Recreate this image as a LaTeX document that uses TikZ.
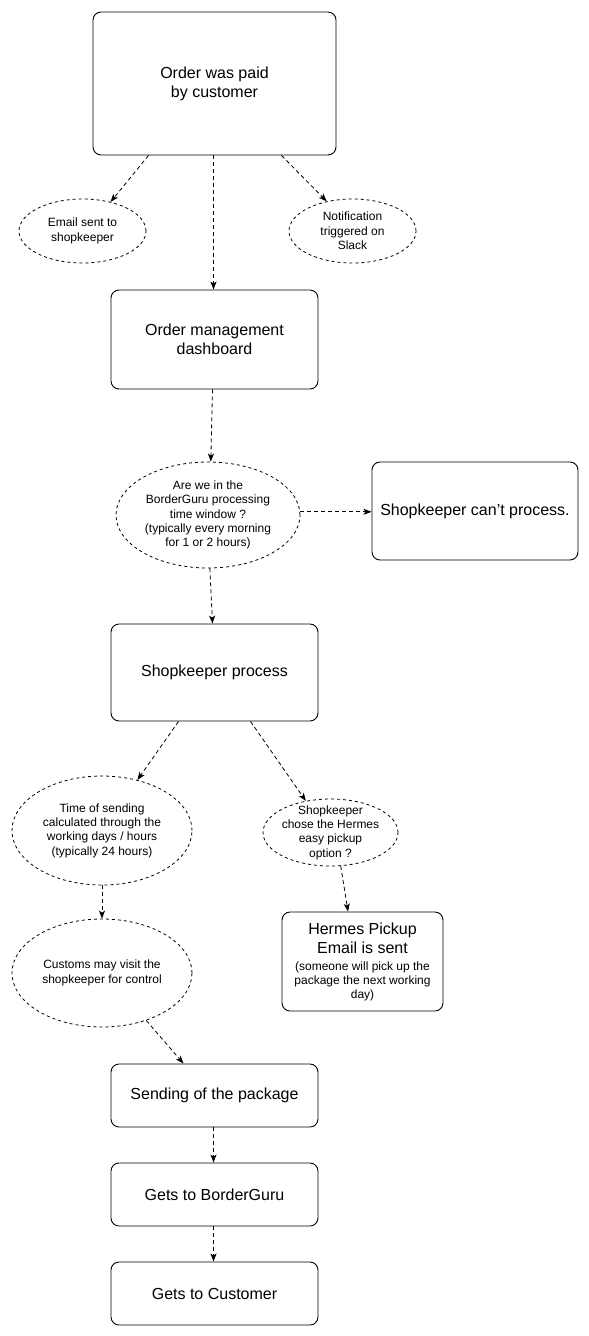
\documentclass[tikz,border=0pt]{standalone}
\usepackage{fontspec}
\setmainfont{Liberation Sans}
\usetikzlibrary{arrows.meta,shapes.geometric}
\begin{document}
\begin{tikzpicture}[x=1pt,y=-1pt,
  box/.style={draw,rounded corners=8pt,line width=0.9pt,inner sep=0pt,align=center,font=\fontsize{16}{19}\selectfont},
  oval/.style={draw,ellipse,dashed,dash pattern=on 3pt off 3pt,line width=0.8pt,inner sep=-4pt,align=center,font=\fontsize{12}{14.3}\selectfont},
  conn/.style={dashed,dash pattern=on 4pt off 3pt,line width=0.8pt,-{Stealth[length=8pt,width=6pt,inset=2pt]}}]
\useasboundingbox (0,0) rectangle (589,1336);
\node[box,minimum width=243pt,minimum height=143pt] (paid) at (214.5,83.5) {Order was paid\\by customer};
\node[oval,minimum width=127pt,minimum height=64pt] (email) at (82.5,231) {Email sent to\\shopkeeper};
\node[oval,minimum width=127pt,minimum height=64pt] (slack) at (352.5,231) {Notification\\triggered on\\Slack};
\node[box,minimum width=207pt,minimum height=99pt] (dash) at (214.5,339.5) {Order management\\dashboard};
\node[oval,minimum width=184pt,minimum height=106pt] (window) at (208,515) {Are we in the\\BorderGuru processing\\time window ?\\(typically every morning\\for 1 or 2 hours)};
\node[box,minimum width=206pt,minimum height=98pt] (cant) at (475,511) {Shopkeeper can’t process.};
\node[box,minimum width=207pt,minimum height=97pt] (proc) at (214.5,672.5) {Shopkeeper process};
\node[oval,minimum width=180pt,minimum height=109pt] (time) at (102,830.5) {Time of sending\\calculated through the\\working days / hours\\(typically 24 hours)};
\node[oval,minimum width=135pt,minimum height=67pt,inner sep=-6pt] (hq) at (330.5,832.5) {Shopkeeper\\chose the Hermes\\easy pickup\\option ?};
\node[box,minimum width=161pt,minimum height=99pt] (hermes) at (362.5,961.5) {Hermes Pickup\\Email is sent\\[-2pt]{\fontsize{12}{14}\selectfont(someone will pick up the}\\[-5pt]{\fontsize{12}{14}\selectfont package the next working}\\[-5pt]{\fontsize{12}{14}\selectfont day)}};
\node[oval,minimum width=180pt,minimum height=108pt] (customs) at (102,973) {Customs may visit the\\shopkeeper for control};
\node[box,minimum width=207pt,minimum height=63pt] (send) at (214.5,1095.5) {Sending of the package};
\node[box,minimum width=207pt,minimum height=63pt] (bg) at (214.5,1194.5) {Gets to BorderGuru};
\node[box,minimum width=207pt,minimum height=63pt] (cust) at (214.5,1293.5) {Gets to Customer};
\draw[conn] ([xshift=-66pt]paid.south) -- (email.46);
\draw[conn] ([xshift=-1pt]paid.south) -- ([xshift=-1pt]dash.north);
\draw[conn] ([xshift=67pt]paid.south) -- (slack.131);
\draw[conn] ([xshift=-2pt]dash.south) -- (window.87);
\draw[conn] (window.2) -- (window.2 -| cant.west);
\draw[conn] (window.272) -- ([xshift=-2pt]proc.north);
\draw[conn] ([xshift=-36pt]proc.south) -- (time.55);
\draw[conn] ([xshift=36pt]proc.south) -- (hq.128);
\draw[conn] (hq.-73) -- ([xshift=-14.5pt]hermes.north);
\draw[conn] (time.south) -- (customs.north);
\draw[conn] (customs.-47) -- ([xshift=-31pt]send.north);
\draw[conn] ([xshift=-1pt]send.south) -- ([xshift=-1pt]bg.north);
\draw[conn] ([xshift=-1pt]bg.south) -- ([xshift=-1pt]cust.north);
\end{tikzpicture}
\end{document}
